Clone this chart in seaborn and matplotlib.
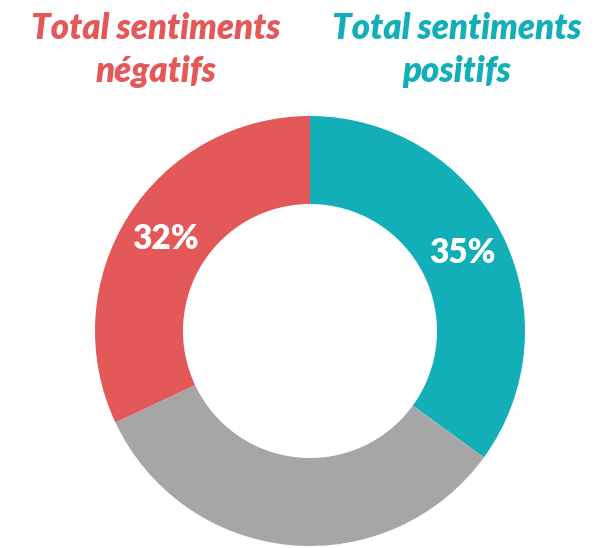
import seaborn as sns
import matplotlib.pyplot as plt

# Data
categories = ['Positifs', 'Neutres', 'Négatifs']
shares = [35, 33, 32]
show_label = [True, False, True]
titles = ['Total sentiments\nnégatifs', 'Total sentiments\npositifs']

colors = ['#13AFB8', '#A6A6A6', '#E35858']

sns.set_style('white')
plt.rcParams['font.family'] = ['Lato', 'DejaVu Sans']

fig = plt.figure(figsize=(6.06, 5.48), dpi=100)
ax = fig.add_axes([0, 0, 1, 1])

labels_iter = iter(show_label)


def fmt(p):
    return f'{p:.0f}%' if next(labels_iter) else ''


wedges, _, autotexts = ax.pie(
    shares, colors=colors, startangle=90, counterclock=False,
    center=(310, 548 - 331), radius=215, frame=True,
    wedgeprops=dict(width=88, edgecolor='none'),
    autopct=fmt, pctdistance=0.795,
    textprops=dict(color='white', fontsize=24, fontweight='heavy'))
ax.set_xlim(0, 606)
ax.set_ylim(0, 548)
ax.set_aspect('equal')
ax.axis('off')

fig.text(156 / 606, 1 - 50 / 548, titles[0], color='#E35858', fontsize=25,
         fontweight='heavy', style='italic', ha='center', va='center',
         linespacing=1.35)
fig.text(457 / 606, 1 - 50 / 548, titles[1], color='#13AFB8', fontsize=25,
         fontweight='heavy', style='italic', ha='center', va='center',
         linespacing=1.35)

plt.savefig('out.png', dpi=100)
